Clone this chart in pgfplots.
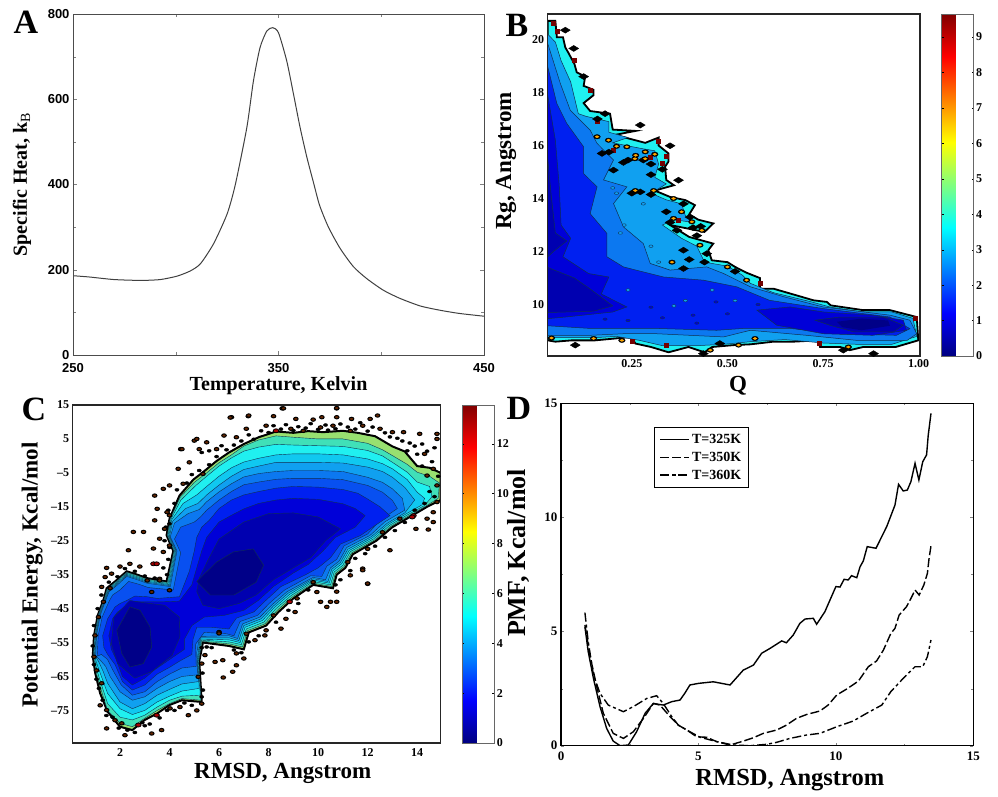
\documentclass[border=0pt]{standalone}
\usepackage{fontspec}
\setmainfont{Liberation Serif}
\newfontfamily\arialf{Liberation Sans}
\usepackage{pgfplots}
\pgfplotsset{compat=1.18}
\definecolor{ca}{HTML}{98E070}\definecolor{cb}{HTML}{40E0B8}\definecolor{cc}{HTML}{20F0F0}
\definecolor{cd}{HTML}{10C8F0}\definecolor{ce}{HTML}{10A0F0}\definecolor{cf}{HTML}{0C78F0}
\definecolor{cg}{HTML}{0850F0}\definecolor{ch}{HTML}{0020F0}\definecolor{ci}{HTML}{0000D8}
\definecolor{cj}{HTML}{0000B0}\definecolor{ck}{HTML}{000088}
\definecolor{lc}{HTML}{103050}
\newcommand{\ts}[1]{\fontsize{#1}{#1}\selectfont\bfseries}
\pgfplotsset{
  myaxis/.style={scale only axis, axis on top, colormap/jet, /pgf/number format/assume math mode=true,
    xlabel style={font=\ts{23}}, ylabel style={font=\ts{23}},
    tick label style={font=\ts{12}}},
  cbar/.style={colorbar, colorbar style={width=32pt, at={(parent axis.north east)}, anchor=north west, xshift=#1,
    /pgf/number format/assume math mode=true, tick label style={font=\ts{12}},
    axis line style={line width=0.5pt,draw=black!60}, major tick length=2pt, ytick style={draw=black}, yticklabel shift=-1pt}},
}
\begin{document}
\begin{tikzpicture}[x=1pt,y=1pt]
\useasboundingbox (0,0) rectangle (998,796);
% ---------- A
\begin{axis}[myaxis, at={(73pt,441pt)}, width=411pt, height=341pt, xmin=250, xmax=450, ymin=0, ymax=800,
  xtick={250,350,450}, minor xtick={300,400}, ytick={0,200,400,600,800}, minor ytick={100,300,500,700},
  tick align=inside, major tick length=4pt, minor tick length=3pt, axis line style={line width=0.8pt,draw=black!70},
  tick label style={font=\arialf\ts{13}}, xticklabel style={yshift=-5pt},
  xlabel={Temperature, Kelvin}, ylabel={Specific Heat, k$_{\mathrm{B}}$},
  xlabel style={font=\ts{20},at={(axis description cs:0.5,-0.091)},anchor=center},
  ylabel style={font=\ts{20},at={(axis description cs:-0.124,0.5)},anchor=center}]
\addplot[smooth, tension=0.4, line width=1pt, draw=black!75] coordinates {(250,186)(258,183)(270,177)(283,175)(292.5,177)(300.6,185)(307,197)(312,214)(318.4,261)(325,331)(329,400)(334.6,534)(337.8,643)(341,721)(344.3,760)(347.2,768)(350,756)(354,690)(357.3,612)(360.5,534)(363.8,464)(367,405)(370,351)(374.3,300)(380,250)(386.5,207)(393,179)(401,152)(409,133)(419,115)(428.6,105)(438,97.5)(450,91)};
\end{axis}
% ---------- B
\begin{axis}[myaxis, at={(547.7pt,440pt)}, width=372.3pt, height=342pt, xmin=0.03, xmax=1.0035, ymin=8.06, ymax=20.96,
  xtick={0.25,0.5,0.75,1}, xticklabels={0.25,0.50,0.75,1.00}, ytick={10,12,...,20}, major tick length=0pt,
  axis line style={line width=1.5pt,draw=black!85}, clip=true,
  point meta min=0, point meta max=9.65, cbar=13pt, colorbar style={ytick={0,...,9}},
  xlabel={Q}, ylabel={Rg, Angstrom},
  xlabel style={at={(axis description cs:0.511,-0.088)},anchor=center},
  ylabel style={at={(axis description cs:-0.112,0.57)},anchor=center}]
\addplot[fill=cc, draw=black, line width=1.8pt, line join=miter] coordinates {(.03,20.7)(.05,20.7)(.054,20.08)(.07,20.08)(.076,19.7)(.084,19.5)(.1,19.07)(.106,18.76)(.128,18.6)(.124,18.25)(.15,18.1)(.15,17.9)(.124,17.6)(.141,17.3)(.193,17.2)(.2,16.6)(.26,16.55)(.206,16.4)(.285,16.1)(.32,16.3)(.32,16)(.346,15.7)(.346,15.4)(.337,15.2)(.34,14.7)(.36,14.5)(.31,14.3)(.35,14.06)(.39,13.94)(.415,13.75)(.4,13.4)(.424,13.2)(.463,13.06)(.44,12.74)(.35,13)(.4,12.55)(.463,12.3)(.45,12.05)(.459,11.67)(.5,11.6)(.52,11.42)(.55,11.2)(.585,11)(.585,10.6)(.62,10.6)(.68,10.35)(.725,10.16)(.76,10.1)(.77,9.97)(.855,9.79)(.925,9.79)(.995,9.53)(.999,8.65)(.94,8.4)(.855,8.4)(.82,8.28)(.795,8.4)(.742,8.4)(.738,8.65)(.672,8.6)(.62,8.6)(.56,8.5)(.516,8.47)(.46,8.4)(.44,8.2)(.398,8.4)(.346,8.2)(.3,8.4)(.259,8.53)(.25,8.78)(.206,8.72)(.154,8.65)(.093,8.65)(.05,8.6)(.03,8.65)} --cycle;
\addplot[fill=ce, draw=lc, line width=0.5pt] coordinates {(.03,20.2)(.05,19.9)(.065,19.2)(.09,18.4)(.1,17.8)(.11,17.2)(.13,17.1)(.19,16.9)(.19,16.5)(.24,16.3)(.2,16.1)(.27,15.9)(.31,15.8)(.32,15.3)(.31,14.8)(.34,14.55)(.3,14.2)(.34,13.95)(.38,13.8)(.39,13.35)(.41,13.1)(.36,13.2)(.33,13)(.38,12.5)(.42,12.2)(.43,11.9)(.44,11.6)(.5,11.45)(.54,11.1)(.56,10.8)(.62,10.45)(.72,10.1)(.77,9.9)(.85,9.73)(.93,9.72)(.985,9.48)(.995,8.8)(.93,8.5)(.84,8.5)(.75,8.55)(.65,8.68)(.56,8.6)(.49,8.5)(.42,8.45)(.33,8.45)(.27,8.65)(.21,8.8)(.15,8.75)(.09,8.75)(.03,8.75)} --cycle;
\addplot[fill=cf, draw=lc, line width=0.5pt] coordinates {(.03,19.85)(.063,18.34)(.089,17.33)(.141,16.58)(.159,16.08)(.202,15.45)(.176,14.7)(.237,14.44)(.202,13.81)(.228,12.93)(.28,12.3)(.298,11.55)(.35,11.3)(.446,11.42)(.49,11.17)(.56,10.67)(.646,10.3)(.75,9.91)(.925,9.6)(.977,9.41)(.995,8.9)(.97,8.65)(.838,8.65)(.707,8.84)(.56,9.03)(.49,8.78)(.315,8.9)(.228,8.9)(.141,8.84)(.03,8.84)} --cycle;
\addplot[fill=ch, draw=lc, line width=0.5pt] coordinates {(.03,18.97)(.054,17.58)(.08,16.83)(.124,15.95)(.124,14.94)(.159,14.44)(.141,13.43)(.185,12.68)(.185,11.8)(.228,11.42)(.333,11.04)(.437,10.92)(.524,10.67)(.61,10.16)(.75,9.85)(.925,9.53)(.977,9.09)(.942,8.84)(.794,8.9)(.664,9.1)(.542,9.1)(.472,9.03)(.315,9.1)(.141,9.1)(.03,9.2)} --cycle;
\addplot[fill=ci, draw=lc, line width=0.5pt] coordinates {(.03,17.9)(.05,16.2)(.06,14.5)(.065,13)(.09,12.5)(.07,11.8)(.137,11.17)(.19,11.04)(.17,10.4)(.237,9.91)(.2,9.72)(.076,9.53)(.03,9.47)} --cycle;
\addplot[fill=cj, draw=lc, line width=0.5pt] coordinates {(.03,15.5)(.04,14)(.05,12.7)(.08,12.4)(.045,12)(.03,11.8)} --cycle;
\addplot[fill=cj, draw=lc, line width=0.5pt] coordinates {(.03,11.4)(.1,11)(.14,10.6)(.2,9.95)(.15,9.75)(.03,9.7)} --cycle;
\addplot[fill=ci, draw=lc, line width=0.5pt] coordinates {(.577,9.79)(.664,9.91)(.751,9.72)(.88,9.6)(.96,9.41)(.968,9.03)(.88,8.84)(.751,8.9)(.629,9.22)} --cycle;
\addplot[fill=cj, draw=lc, line width=0.5pt] coordinates {(.729,9.41)(.794,9.53)(.908,9.53)(.96,9.22)(.934,8.97)(.83,8.97)(.768,9.22)} --cycle;
\addplot[fill=ck, draw=none] coordinates {(.786,9.35)(.85,9.47)(.92,9.4)(.925,9.2)(.85,9.03)(.8,9.15)} --cycle;
% small islands
\addplot[only marks, mark=*, mark size=1.3pt, mark options={fill=ce,draw=lc,line width=0.4pt,xscale=1.6}] coordinates {(.21,14.2)(.22,12.7)(.23,13)(.2,14.4)(.24,10.55)(.32,11.6)(.3,12.2)(.39,10.15)(.46,10.55)(.28,13.8)(.36,9.95)(.52,10.15)};
\addplot[only marks, mark=*, mark size=1.2pt, mark options={fill=ci,draw=lc,line width=0.4pt,xscale=1.8}] coordinates {(.3,9.9)(.41,9.6)(.42,9.3)(.5,9.65)(.47,10.1)(.58,10)(.33,9.5)(.24,9.4)(.18,9.45)};
% dark red cells on the edge
\addplot[only marks, mark=square*, mark size=2pt, mark options={fill=red!45!black,draw=red!45!black}] coordinates {(.372,13.18)(.202,15.82)(.298,15.57)(.99,9.47)(.045,20.6)(.141,18.1)(.16,16.9)(.585,10.8)(.741,8.55)(.33,15.35)(.34,8.45)(.25,8.6)(.055,20.3)(.1,19.2)(.32,16.15)(.34,15.6)};
% black diamonds
\addplot[only marks, mark=diamond*, mark size=3pt, mark options={fill=black,draw=black,xscale=2.2}] coordinates {(.272,16.77)(.102,8.47)(.35,15.99)(.372,14.69)(.202,15.07)(.437,8.15)(.882,8.15)(.076,20.35)(.098,19.66)(.124,18.6)(.18,17.2)(.48,8.53)(.803,8.28)(.172,15.7)(.228,15.36)(.28,15.45)(.272,14.25)(.385,13.8)(.402,13.3)(.368,12.8)(.385,12.05)(.446,11.92)(.385,11.36)(.33,15.1)(.3,14.9)(.34,13.5)(.43,12.95)(.42,12.6)(.24,15.45)(.19,15.75)(.3,15.3)(.25,14.2)(.3,14.15)(.35,13.1)(.41,12.9)(.4,11.7)(.44,11.6)(.52,11.25)(.16,17)};
% gold
\addplot[only marks, mark=*, mark size=2.2pt, mark options={fill=black,draw=black,xscale=1.5}] coordinates {(.21,15.97)(.237,15.95)(.285,15.76)(.285,15.5)(.258,15.5)(.26,15.63)(.31,15.67)(.259,14.3)(.307,14.3)(.359,14)(.38,13.5)(.359,13.25)(.407,13.12)(.433,12.8)(.428,12.24)(.355,11.6)(.5,11.42)(.55,10.92)(.159,16.33)(.189,16.2)(.15,8.72)(.224,8.65)(.455,8.28)(.529,8.47)(.572,8.72)(.816,8.4)(.04,8.74)};
\addplot[only marks, mark=*, mark size=1.1pt, mark options={fill=orange!70!yellow,draw=orange!70!yellow,xscale=1.7}] coordinates {(.21,15.97)(.237,15.95)(.285,15.76)(.285,15.5)(.258,15.5)(.26,15.63)(.31,15.67)(.259,14.3)(.307,14.3)(.359,14)(.38,13.5)(.359,13.25)(.407,13.12)(.433,12.8)(.428,12.24)(.355,11.6)(.5,11.42)(.55,10.92)(.159,16.33)(.189,16.2)(.15,8.72)(.224,8.65)(.455,8.28)(.529,8.47)(.572,8.72)(.816,8.4)(.04,8.74)};
\end{axis}
% ---------- C
\begin{axis}[myaxis, at={(72.7pt,53pt)}, width=368pt, height=338pt, xmin=0.09, xmax=14.95, ymin=-84.6, ymax=15,
  xtick={2,4,...,14}, ytick={-75,-65,...,15}, yticklabels={--75,--65,--55,--45,--35,--25,--15,--5,5,15}, major tick length=0pt,
  xticklabel style={yshift=-2pt},
  axis line style={line width=1.5pt,draw=black!85},
  point meta min=0, point meta max=13.55, cbar=13pt, colorbar style={ytick={0,2,...,12}},
  xlabel={RMSD, Angstrom}, ylabel={Potential Energy, Kcal/mol},
  xlabel style={at={(axis description cs:0.571,-0.089)},anchor=center},
  ylabel style={at={(axis description cs:-0.11,0.497)},anchor=center}]
\addplot[fill=ca, draw=black, line width=2pt] coordinates {(0.95,-53)(1.1,-47)(1.35,-42)(1.46,-39)(1.8,-37)(2.27,-34)(2.7,-35)(3.08,-36)(3.88,-37)(4.15,-28)(3.88,-23.4)(4,-18.5)(4.4,-11.7)(4.96,-7)(5.4,-4.5)(5.9,-1.5)(6.4,1)(7,3.5)(7.6,5.5)(8.3,7.2)(9,6.8)(9.6,7.3)(10.2,7)(11,7.4)(11.6,6.8)(12.3,5.8)(13,2.8)(13.5,1.3)(14,-3)(14.5,-3.5)(14.95,-5)(14.95,-13)(14.4,-15)(13.7,-18)(13,-21)(12.35,-25)(11.4,-29)(11.1,-33)(10.75,-35)(10.6,-39)(9.8,-38)(9,-42)(8.4,-46)(7.9,-50)(7.2,-52)(7,-57)(6.4,-56)(5.35,-55)(5.2,-60.5)(5.3,-72.5)(4.5,-72)(4,-73.4)(3.5,-75.9)(3,-77.8)(2.5,-80.8)(2,-79.8)(1.5,-75.4)(1.2,-70)(1,-64)(0.9,-59)} --cycle;
\addplot[fill=cb, draw=lc, line width=0.4pt] coordinates {(.97,-53)(1.12,-47)(1.37,-42)(1.48,-39.2)(1.82,-37.2)(2.27,-34.3)(2.7,-35.3)(3.08,-36.3)(3.91,-37.3)(4.18,-28)(3.91,-23.4)(4.03,-18.5)(4.43,-12.2)(5.0,-7.8)(5.5,-5)(6,-2)(6.5,.3)(7,2.9)(7.6,4.7)(8.3,5.9)(9,5.5)(10,5)(11,5)(12,3.7)(12.6,1.8)(13,.1)(13.6,-2.5)(14,-4.8)(14.5,-6)(14.9,-8)(14.85,-12.5)(14.35,-14.8)(13.65,-17.7)(12.95,-20.7)(12.3,-24.7)(11.35,-28.6)(11.05,-32.6)(10.7,-34.6)(10.55,-38.5)(9.8,-37.5)(8.95,-41.6)(8.35,-45.5)(7.85,-49.5)(7.15,-51.5)(6.95,-56.3)(6.4,-55.4)(5.3,-54.6)(5.18,-60.5)(5.27,-72)(4.5,-71.5)(4,-73)(3.5,-75)(3,-77.3)(2.5,-79.8)(2,-78.8)(1.5,-75)(1.26,-69.5)(1.04,-64)(0.93,-59)} --cycle;
\addplot[fill=cc, draw=lc, line width=0.4pt] coordinates {(.99,-53)(1.14,-47)(1.39,-42)(1.5,-39.4)(1.84,-37.4)(2.27,-34.6)(2.7,-35.6)(3.08,-36.6)(3.94,-37.6)(4.21,-28)(3.94,-23.4)(4.06,-18.6)(4.46,-13)(5.05,-8.8)(5.5,-6)(6,-3)(6.5,-.6)(7,1.4)(7.6,2.6)(8.3,3.4)(9,3.2)(10,3)(11,2.8)(12,1.6)(12.6,0)(13,-1.9)(13.6,-4.8)(14,-7.7)(14.5,-9)(14.6,-12)(14.3,-14.6)(13.6,-17.4)(12.9,-20.4)(12.25,-24.4)(11.3,-28.2)(11,-32.2)(10.65,-34.2)(10.5,-38)(9.8,-37)(8.9,-41.2)(8.3,-45)(7.8,-49)(7.1,-51)(6.9,-55.6)(6.4,-54.8)(5.28,-54.3)(5.16,-60.5)(5.24,-70.5)(4.5,-70.8)(4,-72)(3.5,-74)(3,-76.4)(2.5,-77.8)(2,-77)(1.5,-73)(1.3,-68.5)(1.08,-63.5)(.95,-59)} --cycle;
\addplot[fill=cd, draw=lc, line width=0.4pt] coordinates {(1.01,-53)(1.16,-47)(1.41,-42)(1.52,-39.6)(1.86,-37.6)(2.27,-34.9)(2.7,-35.9)(3.08,-36.9)(3.97,-37.9)(4.24,-28)(3.97,-23.5)(4.09,-18.8)(4.55,-14)(5.1,-11.5)(5.5,-9)(6,-6)(6.5,-3.5)(7,-1.8)(7.6,-.7)(8.3,.3)(9,.6)(10,.6)(11,.3)(12,-.9)(12.6,-2.3)(13,-3.8)(13.6,-7)(14,-10.7)(14.3,-12.5)(14.2,-14.4)(13.55,-17.1)(12.85,-20.1)(12.2,-24.1)(11.25,-27.9)(10.95,-31.8)(10.6,-33.8)(10.45,-37.5)(9.8,-36.6)(8.85,-40.8)(8.25,-44.6)(7.75,-48.5)(7.05,-50.5)(6.85,-55)(6.4,-54.2)(5.26,-54)(5.14,-60.5)(5.2,-68.5)(4.5,-69.3)(4,-70.8)(3.5,-72.5)(3,-75)(2.5,-76.2)(2,-74.5)(1.5,-70)(1.3,-66)(1.1,-62)(.97,-59)} --cycle;
\addplot[fill=ce, draw=lc, line width=0.4pt] coordinates {(1.03,-53)(1.18,-47)(1.43,-42)(1.54,-39.8)(1.88,-37.8)(2.27,-35.2)(2.7,-36.2)(3.08,-37.2)(4,-38.2)(4.27,-28)(4,-23.6)(4.13,-19.2)(4.65,-15.5)(5.15,-14)(5.5,-11.5)(6,-8.6)(6.5,-6)(7,-4)(7.6,-3)(8.3,-1.9)(9,-1.9)(10,-1.9)(11,-2.1)(12,-3.3)(12.6,-4.6)(13,-6.3)(13.5,-9.3)(13.9,-13)(13.5,-16.8)(12.8,-19.8)(12.15,-23.8)(11.2,-27.5)(10.9,-31.4)(10.55,-33.4)(10.4,-37)(9.8,-36.2)(8.8,-40.4)(8.2,-44.2)(7.7,-48)(7,-50)(6.8,-54.4)(6.4,-53.6)(5.24,-53.6)(5.12,-60)(5.17,-66.5)(4.5,-67.2)(4,-68.8)(3.5,-70.5)(3,-73)(2.5,-74.5)(2,-72.5)(1.5,-67)(1.32,-63.5)(1.13,-60.5)(.99,-59)} --cycle;
\addplot[fill=cf, draw=lc, line width=0.4pt] coordinates {(1.05,-53)(1.2,-47)(1.45,-42)(1.56,-40)(1.9,-38)(2.27,-35.5)(2.7,-36.5)(3.08,-37.5)(4.03,-38.5)(4.3,-28)(4.03,-23.8)(4.2,-19.8)(4.75,-17)(5.2,-15.8)(5.5,-13.5)(6,-10.6)(6.5,-8.2)(7,-6.2)(7.6,-5.2)(8.3,-4.6)(9,-4.3)(10,-4.3)(11,-4.6)(12,-6.3)(12.6,-7.8)(13,-9.7)(13.4,-12.5)(13.5,-16)(12.7,-19.4)(12.1,-23.4)(11.15,-27)(10.85,-31)(10.5,-33)(10.3,-36.5)(9.8,-35.8)(8.75,-40)(8.15,-43.8)(7.65,-47.5)(6.95,-49.5)(6.75,-53.8)(6.4,-53)(5.22,-53.2)(5.1,-58)(5.13,-64.5)(4.5,-65)(4,-66.5)(3.5,-68.5)(3,-71)(2.5,-72)(2,-69.5)(1.6,-65)(1.42,-62)(1.18,-60)(1.02,-59)} --cycle;
\addplot[fill=cg, draw=lc, line width=0.4pt] coordinates {(1.12,-53)(1.28,-47.5)(1.55,-43)(1.7,-41)(2,-39.5)(2.35,-37)(2.75,-37.8)(3.15,-38.8)(4.15,-39.5)(4.45,-28.5)(4.2,-24.5)(4.45,-21)(5,-19.5)(5.25,-18)(5.5,-16)(6,-13)(6.5,-10.5)(7,-8.5)(7.6,-7.7)(8.3,-6.9)(9,-6.6)(10,-6.6)(11,-7)(12,-8.7)(12.6,-10.7)(13,-13.1)(13.2,-15.5)(12.5,-19)(12,-23)(11.05,-26.5)(10.75,-30.5)(10.35,-32.5)(10.15,-35.5)(9.7,-35.3)(8.65,-39.5)(8.05,-43.3)(7.55,-47)(6.85,-48.8)(6.6,-53)(6.3,-52.4)(5.4,-52)(5.05,-55.5)(5.08,-62)(4.5,-62.5)(4,-64.3)(3.5,-66.5)(3,-69.5)(2.5,-70.5)(2.05,-67.5)(1.7,-63)(1.5,-60)(1.25,-58.5)(1.08,-59)} --cycle;
\addplot[fill=ch, draw=lc, line width=0.4pt] coordinates {(1.3,-53)(1.5,-48)(1.8,-44.5)(2,-43.5)(2.3,-42.5)(2.6,-41.3)(3.1,-41.5)(3.5,-42)(4.4,-41.5)(4.8,-34)(5,-28)(5.1,-24)(5.3,-21)(5.6,-19)(6,-15.5)(6.5,-13)(7,-11.5)(7.6,-10.5)(8.3,-9.5)(9,-9)(10,-9.2)(11,-9.9)(11.6,-11)(12,-12.7)(12.5,-15)(12.9,-17.6)(12.3,-20.5)(11.7,-23.5)(10.9,-26)(10.5,-30)(10,-33)(9.5,-35)(8.5,-38.5)(7.9,-42.5)(7.4,-46)(6.7,-47.8)(6.4,-51)(5.7,-50.5)(5.1,-50.5)(4.95,-54)(4.9,-58.5)(4.4,-60.5)(4,-62.3)(3.5,-64.3)(3,-67.5)(2.5,-69)(2.1,-66.5)(1.8,-61.5)(1.5,-58.5)(1.35,-56.5)} --cycle;
\addplot[fill=ci, draw=lc, line width=0.4pt] coordinates {(1.55,-53)(1.7,-48)(1.9,-46)(2.2,-44.5)(2.6,-43)(3.2,-43)(3.7,-43)(4.4,-42.8)(4.9,-38)(5.1,-33)(5.3,-28)(5.5,-24)(6,-19.5)(6.5,-17.5)(7,-15.6)(7.6,-14)(8.3,-13)(9,-12.5)(10,-12.8)(11,-14.1)(11.5,-15.5)(11.9,-17.6)(11.5,-21)(10.7,-24)(10.2,-28)(9.6,-32)(9,-34.5)(8.2,-38.5)(7.6,-42.5)(7,-45.5)(6.2,-47)(5.4,-47.5)(4.9,-50)(4.6,-54)(4.6,-57)(4.2,-59)(3.8,-61)(3.4,-63)(3,-65.5)(2.5,-67.5)(2.1,-65)(1.85,-60)(1.65,-57)} --cycle;
\addplot[fill=cj, draw=lc, line width=0.4pt] coordinates {(5.35,-44)(5.1,-40)(5.2,-36)(5.6,-30)(6,-24.5)(7,-19.5)(8,-17)(9,-16.8)(10,-18)(10.9,-21.5)(10.3,-25)(9.7,-30)(9,-33)(8.2,-36.5)(7.5,-41)(6.8,-43.5)(6,-45)} --cycle;
\addplot[fill=cj, draw=lc, line width=0.4pt] coordinates {(2.4,-42.6)(1.75,-47.5)(1.65,-55.3)(1.9,-61.2)(2.6,-65.5)(3.3,-63.5)(4.1,-58.8)(4.42,-53.3)(4.4,-47.5)(3.8,-44)(3,-43.3)} --cycle;
\addplot[fill=ck, draw=lc, line width=0.4pt] coordinates {(5.1,-37)(5.9,-31.3)(6.58,-28.3)(7.38,-27.4)(7.8,-32.2)(7.5,-37.2)(6.6,-41)(5.65,-41)} --cycle;
\addplot[fill=ck, draw=lc, line width=0.4pt] coordinates {(2.4,-44.5)(1.87,-51.4)(2.07,-58.2)(2.4,-62.2)(2.94,-61.2)(3.28,-56.3)(3.21,-50.4)(2.81,-45.5)} --cycle;
% scattered low-population cells
\addplot[only marks, mark=*, mark size=1.5pt, mark options={fill=black,draw=black,xscale=1.4}] coordinates {(5.3,1)(5.6,1.5)(5.9,-.2)(6.1,3)(6.3,1.8)(6.6,3.2)(6.9,4.4)(7.2,6.2)(7.4,4.9)(7.7,7.4)(8,6.9)(8.2,8.9)(8.5,7.9)(8.7,9.2)(9,7.5)(9.2,8.6)(9.5,8.2)(9.7,9.5)(10,7.8)(10.3,9.1)(10.4,7.6)(10.7,8)(10.9,9.4)(11.2,8.5)(11.5,7.9)(11.7,9.8)(12,7.3)(12.2,8.5)(12.7,6.8)(12.9,5.6)(13.2,5.2)(13.4,4.4)(13.7,3.8)(13.9,2.9)(14.2,3.5)(14.4,1.4)(14.7,2.4)(14,0.5)(13.6,1.5)(14.6,-1.7)(14.2,-3)(14.85,-6)(14.5,-10.5)(14.7,-12)(14.3,-14)(13.9,-16)(13.5,-19.6)(13.1,-22)(12.7,-24)(12.3,-26.6)(11.9,-28.8)(11.5,-30.2)(11.3,-33.8)(10.9,-36.5)(10.7,-38)(9.6,-39.5)(9.2,-43.5)(8.8,-45.5)(8.3,-49)(7.6,-53)(7.2,-54.8)(6.9,-58)(5.7,-56.5)(6.6,-57.2)(5.5,-56.3)(5.3,-56.5)(5.33,-64)(5.35,-69)(5.3,-71)(4.9,-73.5)(4.6,-72.8)(4.2,-75)(3.9,-75)(3.6,-77.2)(3.2,-79)(3,-79.5)(2.9,-78.6)(2.6,-81.5)(2.3,-80.8)(1.95,-80.2)(1.7,-77)(1.45,-76.5)(1.3,-72)(1.15,-68.5)(1.05,-65.8)(.95,-61.5)(.9,-56)(.95,-50)(1.1,-45)(1.25,-41)(1.55,-37.2)(1.9,-35.6)(2.2,-33.2)(2.6,-34)(3,-35.4)(3.4,-36)(3.9,-35)(3.75,-33)(3.95,-30.5)(4,-27)(3.8,-25)(3.85,-21)(4,-20)(3.95,-16)(4.2,-14)(4.3,-10)(4.7,-8)(4.9,-5.5)(5.2,-4.3)(5.6,-2.6)};
\addplot[only marks, mark=*, mark size=1.7pt, mark options={fill=black!75!green!60!red,draw=black,line width=1pt,xscale=1.35}] coordinates {(6.5,11.4)(7.18,11.7)(8.55,14)(10.75,14)(8.2,11.7)(9.1,10.9)(9.8,10.7)(10.15,11.4)(11.35,10.9)(12.4,11.9)(12.1,10.9)(10.75,11.4)(7.9,8.9)(8.9,8)(9.4,7.4)(10.1,8.4)(10.6,8.9)(11.3,7.4)(11.8,8.9)(12.5,8)(13,7)(13.45,7)(14.1,6.5)(14.8,6.5)(14.8,5)(14.3,.6)(14.65,-3.8)(14.4,-5.8)(14.8,-8.7)(14.8,-13.6)(14.65,-16.6)(14.4,-18.5)(14.65,-19.5)(13.95,-21.5)(14.45,-21.7)(13.3,-18.5)(12.6,-22.5)(12.9,-27.8)(12,-27.4)(11.8,-33.2)(12,-37.7)(11.2,-31.3)(11.3,-35.2)(10.75,-40)(10.5,-43)(10.75,-43)(9.8,-37.2)(9.95,-40.1)(9.15,-42)(5,4.5)(5.5,4)(5.2,2)(4.45,2)(6.2,6)(7.1,8)(6.7,5.5)(5.9,2)(4.8,-1.9)(4.35,-3.8)(5.35,-5.3)(4.55,-8.2)(3.75,-9.7)(3.4,-11.7)(4,-8.7)(3.5,-15.6)(3.9,-16.6)(3.4,-19)(3.8,-21.5)(4,-17.5)(3.6,-24.4)(3.75,-28.3)(3.6,-36.2)(1.46,-33)(2,-32.6)(1.66,-34.7)(1.4,-35.7)(1.26,-38.6)(1.6,-39)(1.33,-43)(1.13,-47.5)(.99,-52.9)(.95,-59.2)(1.05,-63.2)(1.26,-67)(1.2,-73.5)(1.46,-74.9)(1.46,-80.3)(1.8,-77.9)(2.07,-78.8)(2.2,-82.3)(3.28,-81.8)(3.68,-80.8)(4.02,-74.4)(4.42,-74)(4.76,-76.4)(5.1,-75)(5.3,-73)(5.16,-65.1)(5.3,-61.2)(5.43,-58.7)(5.84,-60.7)(6.15,-60.2)(6.17,-65.3)(6.55,-63.6)(6.7,-61.7)(7,-59.7)(6.7,-58.2)(7.45,-54.3)(7.1,-52.4)(7.85,-52.9)(6,-51.9)(3.6,-36.7)(3.1,-36.7)(4,-39.6)(3.28,-40.1)(2.4,-31.8)(2.8,-32.6)(10.35,-44.5)(10.1,-43)(9.07,-46)(8.5,-50.9)(7.9,-51.4)(8.2,-47)(8.7,-48)(6,-52.3)(12,-37.6)(11.8,-33.7)(2.54,-22.4)(2.95,-22.4)(2.34,-27.8)(3.35,-27.3)(4,-26.4)(4.5,2)(5.1,5)(6.45,11.3)(7.2,11.9)(8.6,14)(10.75,14.1)};
\addplot[only marks, mark=*, mark size=2pt, mark options={fill=red!65!black,draw=black,line width=0.8pt,xscale=1.4}] coordinates {(8.3,7.4)(13.85,-17.6)(8.85,-43)(3.35,-31.8)(2.74,-79.3)(3.48,-76.4)(3.48,-31.8)(13.8,-18)};
\end{axis}
% ---------- D
\begin{axis}[myaxis, at={(561pt,50.3pt)}, width=412.3pt, height=342.4pt, xmin=0, xmax=15, ymin=0, ymax=15,
  xtick={0,5,10,15}, ytick={0,5,10,15}, minor xtick={2.5,7.5,12.5}, minor ytick={2.5,7.5,12.5},
  tick align=inside, major tick length=3pt, minor tick length=2pt, axis line style={line width=1.2pt,draw=black},
  tick label style={font=\ts{13}}, xticklabel style={yshift=-3pt},
  xlabel={RMSD, Angstrom}, ylabel={PMF, Kcal/mol},
  xlabel style={font=\ts{24.5},at={(axis description cs:0.555,-0.099)},anchor=center},
  ylabel style={font=\ts{26},at={(axis description cs:-0.102,0.563)},anchor=center},
  legend style={at={(0.2255,0.932)},anchor=north west,draw=black,line width=1.2pt,font=\ts{14},row sep=3pt,inner xsep=5pt,inner ysep=5pt},
  legend cell align=left, legend image post style={xscale=1.7}]
\addplot[line width=1.4pt, draw=black] coordinates {(.87,5.21)(.99,4.12)(1.18,2.95)(1.42,1.71)(1.66,.76)(1.9,.2)(2.15,0)(2.45,.03)(2.75,.61)(3.06,1.42)(3.36,1.85)(3.72,1.78)(4.03,1.93)(4.33,2.0)(4.5,2.29)(4.69,2.66)(5,2.73)(5.54,2.8)(6.15,2.66)(6.63,3.31)(7,3.53)(7.3,4.05)(7.6,4.26)(8.03,4.59)(8.2,4.51)(8.45,4.85)(8.69,5.36)(8.88,5.55)(9.18,5.58)(9.3,5.32)(9.6,5.87)(10,6.97)(10.15,6.95)(10.3,7.29)(10.45,7.26)(10.57,7.45)(10.76,7.36)(10.88,7.84)(11,8.1)(11.14,8.72)(11.46,8.65)(11.85,9.6)(12.15,10.54)(12.28,11.45)(12.45,11.16)(12.6,11.2)(12.73,11.57)(12.88,12.37)(13.02,11.64)(13.16,12.44)(13.3,12.74)(13.36,13.6)(13.46,14.56)};
\addlegendentry{T=325K}
\addplot[line width=1.4pt, draw=black, dash pattern=on 9pt off 3pt] coordinates {(.87,5.29)(1.05,3.97)(1.3,2.59)(1.54,1.42)(1.9,.54)(2.27,.32)(2.63,.61)(3,1.2)(3.36,1.85)(3.6,1.78)(3.97,1.27)(4.27,.9)(4.57,.69)(4.94,.39)(5.3,.37)(5.66,.18)(6.15,.03)(6.63,.2)(7,.35)(7.36,.54)(7.85,.69)(8.2,.9)(8.57,1.2)(8.94,1.37)(9.42,1.52)(9.72,1.78)(10.03,2.22)(10.39,2.48)(10.82,2.83)(11.18,3.46)(11.48,3.71)(11.73,4.19)(12,4.92)(12.15,5.14)(12.3,5.72)(12.57,6.09)(12.73,6.45)(12.88,6.82)(13.03,6.6)(13.2,7.04)(13.33,7.55)(13.39,8.2)(13.46,8.75)};
\addlegendentry{T=350K}
\addplot[line width=1.4pt, draw=black, dash pattern=on 9pt off 3pt on 3pt off 3pt] coordinates {(.87,5.83)(.99,4.56)(1.18,3.1)(1.42,2.29)(1.72,1.78)(2.27,1.49)(2.63,1.71)(3.12,2.07)(3.48,2.19)(3.72,1.85)(4.03,1.27)(4.27,.9)(4.69,.61)(5.06,.37)(5.66,.18)(6.27,.03)(6.88,0)(7.48,.06)(7.85,.15)(8.33,.32)(8.94,.47)(9.42,.54)(10.03,.83)(10.63,1.08)(11.12,1.42)(11.67,1.78)(12,2.37)(12.45,2.95)(12.88,3.46)(13.16,3.46)(13.33,3.9)(13.46,4.63)};
\addlegendentry{T=360K}
\end{axis}
% panel letters
\node[font=\ts{34},anchor=base] at (26,762) {A};
\node[font=\ts{34},anchor=base] at (517,759) {B};
\node[font=\ts{34},anchor=base] at (34,375) {C};
\node[font=\ts{34},anchor=base] at (519,377) {D};
\end{tikzpicture}
\end{document}
